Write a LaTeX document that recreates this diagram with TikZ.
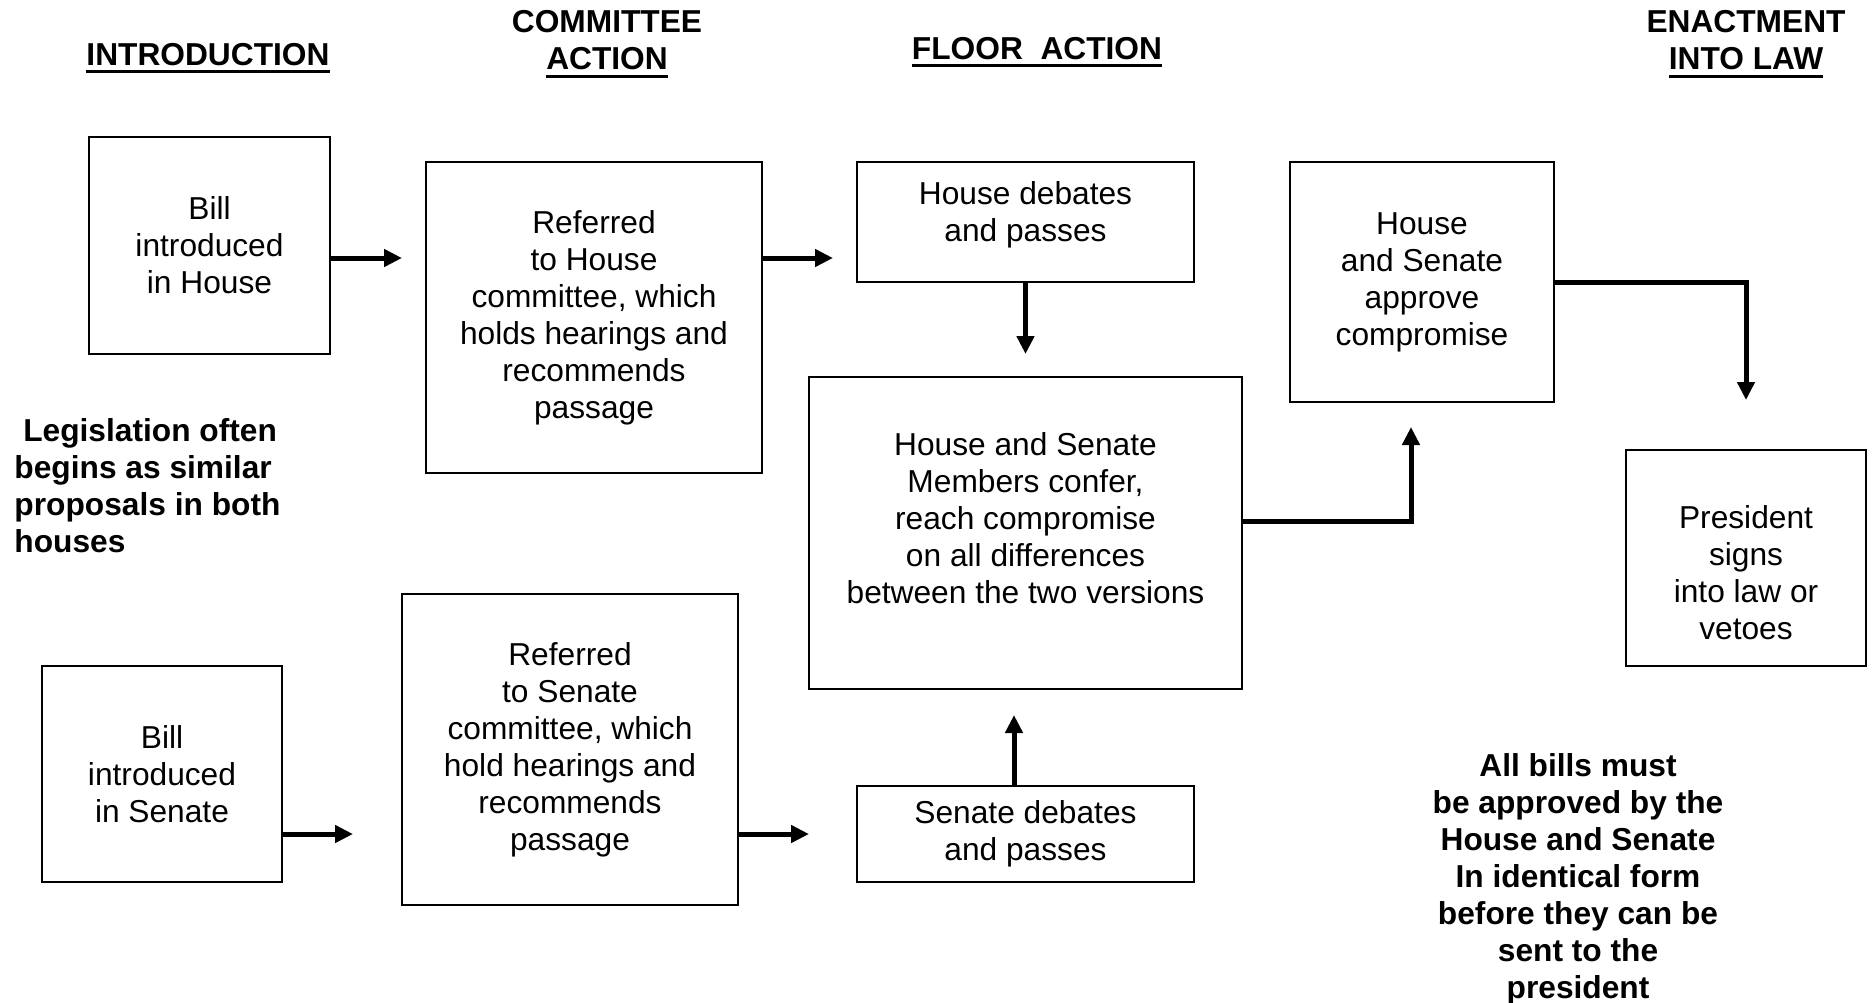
\documentclass[tikz,border=0pt]{standalone}
\usepackage{fontspec}
\setmainfont{Liberation Sans}
\usetikzlibrary{arrows.meta}
\tikzset{
    stagebox/.style = {rectangle, draw=black, line width=0.7pt, align=center, inner sep=0pt, outer sep=0pt, font=\fontsize{12.68}{14.8}\selectfont},
    heading/.style = {align=center, inner sep=0pt, font=\fontsize{12.68}{14.8}\selectfont\bfseries},
    remark/.style = {inner sep=0pt, font=\fontsize{12.68}{14.8}\selectfont\bfseries},
    flow/.style = {-{Triangle[length=7.2pt,width=6.8pt]}, line width=2pt, black}
}
\newcommand{\ULine}[1]{\setbox0=\hbox{#1}\rlap{\rule[-3.2pt]{\wd0}{1.2pt}}\box0}
\newcommand{\padlow}[1]{\rule[-#1]{0pt}{#1}}
\newcommand{\padtop}[1]{\rule{0pt}{#1}}

\begin{document}
\begin{tikzpicture}[x=0.4pt, y=-0.4pt]
\useasboundingbox (0,0) rectangle (1872,1002);
% headings
\node[heading, anchor=base] (intro) at (208,65) {\ULine{INTRODUCTION}};
\node[heading, anchor=north] (cmte) at (607,10) {COMMITTEE\\\ULine{ACTION}};
\node[heading, anchor=base] (floor) at (1037,59) {\ULine{FLOOR\ \ ACTION}};
\node[heading, anchor=north] (enact) at (1746,10) {ENACTMENT\\\ULine{INTO LAW}};
% boxes
\node[stagebox, minimum width=96.4pt, minimum height=86.8pt] at (209.5,245.5) (hintro) {Bill\\introduced\\in House};
\node[stagebox, minimum width=134.4pt, minimum height=124.4pt] at (594,317.5) (hcomm) {Referred\\to House\\committee, which\\holds hearings and\\recommends\\passage};
\node[stagebox, minimum width=134.8pt, minimum height=48pt] at (1025.5,222) (hdebate) {House debates\\and passes\padlow{8pt}};
\node[stagebox, minimum width=173.2pt, minimum height=124.8pt] at (1025.5,533) (confer) {House and Senate\\Members confer,\\reach compromise\\on all differences\\between the two versions\padlow{12pt}};
\node[stagebox, minimum width=105.6pt, minimum height=96pt] at (1422,282) (approve) {House\\and Senate\\approve\\compromise};
\node[stagebox, minimum width=96pt, minimum height=86.4pt] at (1746,558) (pres) {\padtop{20.7pt}President\\signs\\into law or\\vetoes};
\node[stagebox, minimum width=96pt, minimum height=86.4pt] at (162,774) (sintro) {Bill\\introduced\\in Senate};
\node[stagebox, minimum width=134.4pt, minimum height=124.4pt] at (570,749.5) (scomm) {Referred\\to Senate\\committee, which\\hold hearings and\\recommends\\passage};
\node[stagebox, minimum width=134.8pt, minimum height=38.4pt] at (1025.5,834) (sdebate) {Senate debates\\and passes};
% notes
\node[remark, align=left, anchor=north west] at (14,418) (leftnote) {\ Legislation often\\begins as similar\\proposals in both\\houses};
\node[remark, align=center, anchor=north] at (1578,753) (rightnote) {All bills must\\be approved by the\\House and Senate\\In identical form\\before they can be\\sent to the\\president};
% arrows
\coordinate (h1) at (402,258);
\coordinate (h2) at (833,258);
\coordinate (h3) at (1025.5,354);
\coordinate (s1) at (353,834);
\coordinate (s2) at (809,834);
\coordinate (s3) at (1014,715);
\coordinate (c1) at (1411,427);
\coordinate (p1) at (1746,400);
\draw[flow] (hintro.east |- h1) -- (h1);
\draw[flow] (hcomm.east |- h2) -- (h2);
\draw[flow] (hdebate.south) -- (h3);
\draw[flow] (sintro.east |- s1) -- (s1);
\draw[flow] (scomm.east |- s2) -- (s2);
\draw[flow] (s3 |- sdebate.north) -- (s3);
\draw[flow] ([yshift=4.8pt]confer.east) -| (c1);
\draw[flow] (approve.east) -| (p1);
\end{tikzpicture}
\end{document}
